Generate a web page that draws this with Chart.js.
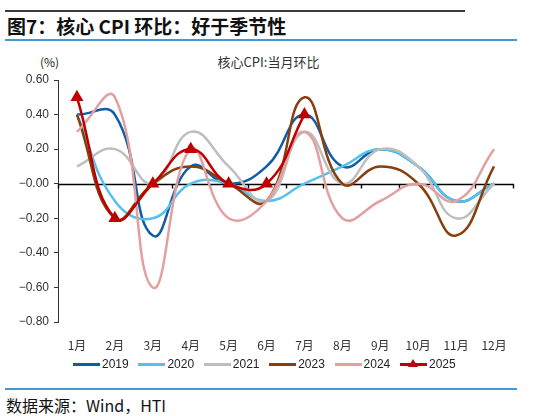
<!DOCTYPE html>
<html><head><meta charset="utf-8">
<script src="https://cdn.jsdelivr.net/npm/chart.js@4"></script>
<style>
html,body{margin:0;padding:0;background:#fff;}
#page{position:relative;width:537px;height:416px;overflow:hidden;font-family:"Liberation Sans","Noto Sans CJK SC",sans-serif;}
.rule{position:absolute;}
#title{position:absolute;left:7px;top:12px;font:bold 19px "Noto Sans CJK SC","Liberation Sans",sans-serif;color:#111;white-space:nowrap;}
#unit{position:absolute;left:40px;top:53px;font:12px "Noto Sans CJK SC",sans-serif;color:#222;}
#ctitle{position:absolute;left:0;width:537px;text-align:center;top:52px;font:13px "Noto Sans CJK SC",sans-serif;color:#333;}
#wrap{position:absolute;left:0;top:48px;width:537px;height:310px;}
#legend{position:absolute;top:356px;left:0;width:537px;height:16px;}
.li{position:absolute;top:0;height:16px;font:12px "Liberation Sans",sans-serif;color:#222;line-height:16px;}
.ls{position:absolute;left:0;top:7px;width:27px;height:2.5px;}
.lt{position:absolute;left:29px;top:0;}
.tri{position:absolute;left:8px;top:3px;width:0;height:0;border-left:5px solid transparent;border-right:5px solid transparent;border-bottom:8px solid #C00000;}
#src{position:absolute;left:6px;top:393px;font:16px "Noto Sans CJK SC","Liberation Sans",sans-serif;color:#111;white-space:nowrap;}
</style></head>
<body><div id="page">
<div class="rule" style="left:5px;top:10px;width:460px;height:2px;background:#3c3c3c;"></div>
<div id="title">图7：核心 CPI 环比：好于季节性</div>
<div class="rule" style="left:5px;top:39px;width:512px;height:2px;background:#3f9ad6;"></div>
<div id="unit">(%)</div>
<div id="ctitle">核心CPI:当月环比</div>
<div id="wrap"><canvas id="c"></canvas></div>
<div id="legend"></div>
<div class="rule" style="left:5px;top:388px;width:512px;height:2px;background:#3f9ad6;"></div>
<div id="src">数据来源：Wind，HTI</div>
</div>
<script>
const months = ["1月","2月","3月","4月","5月","6月","7月","8月","9月","10月","11月","12月"];
const seriesNames = ["2019","2020","2021","2023","2024","2025"];
const seriesColors = ["#0E5DA6","#55C1EF","#BEBEBE","#86400F","#E3A0A0","#C00000"];
const y2019 = [0.4, 0.4, -0.3, 0.1, 0.0, 0.1, 0.4, 0.1, 0.2, 0.1, -0.1, 0.0];
const y2020 = [0.4, -0.1, -0.2, 0.0, 0.0, -0.1, 0.0, 0.1, 0.2, 0.1, -0.1, 0.0];
const y2021 = [0.1, 0.2, 0.0, 0.3, 0.1, -0.1, 0.3, 0.0, 0.2, 0.1, -0.2, 0.0];
const y2023 = [0.4, -0.2, 0.0, 0.1, 0.0, -0.1, 0.5, 0.0, 0.1, 0.0, -0.3, 0.1];
const y2024 = [0.3, 0.5, -0.6, 0.2, -0.2, -0.1, 0.3, -0.2, -0.1, 0.0, -0.1, 0.2];
const y2025 = [0.5, -0.2, 0.0, 0.2, 0.0, 0.0, 0.4];
const yMin = -0.8, yMax = 0.6, yStep = 0.2;

const allSeries = [y2019, y2020, y2021, y2023, y2024, y2025];
const datasets = allSeries.map((d, i) => {
  const isLast = i === allSeries.length - 1;
  return {
    label: seriesNames[i],
    data: d,
    borderColor: seriesColors[i],
    backgroundColor: seriesColors[i],
    borderWidth: 2.5,
    tension: 0.45,
    fill: false,
    pointStyle: 'triangle',
    pointRadius: isLast ? 5 : 0,
    pointHoverRadius: 0,
    order: allSeries.length - i
  };
});

const zeroLine = {
  id: 'zeroLine',
  beforeDatasetsDraw(chart) {
    const {ctx, chartArea, scales} = chart;
    const y0 = Math.round(scales.y.getPixelForValue(0)) + 0.5;
    ctx.save();
    ctx.strokeStyle = '#000';
    ctx.lineWidth = 1.4;
    ctx.beginPath();
    ctx.moveTo(chartArea.left, y0);
    ctx.lineTo(chartArea.right + 1, y0);
    const p0 = scales.x.getPixelForValue(0), p1 = scales.x.getPixelForValue(1);
    const w = p1 - p0;
    for (let k = 0; k <= months.length; k++) {
      const x = Math.round(p0 - w / 2 + k * w) + 0.5;
      ctx.moveTo(x, y0);
      ctx.lineTo(x, y0 + 4);
    }
    ctx.stroke();
    ctx.restore();
  }
};

new Chart(document.getElementById('c'), {
  type: 'line',
  data: { labels: months, datasets },
  options: {
    responsive: true,
    maintainAspectRatio: false,
    animation: false,
    layout: { padding: { left: 0, top: 32, right: 24, bottom: 0 } },
    plugins: { legend: { display: false }, title: { display: false }, tooltip: { enabled: false } },
    scales: {
      x: {
        offset: true,
        grid: { display: false },
        border: { display: false },
        ticks: { padding: 8, color: '#333', font: { size: 12, family: '"Noto Sans CJK SC", sans-serif' }, maxRotation: 0, autoSkip: false },
        afterFit(s) { s.height = 36; }
      },
      y: {
        min: yMin, max: yMax,
        grid: { display: true, drawOnChartArea: false, drawTicks: true, tickLength: 4, color: '#333' },
        border: { display: true, color: '#333', width: 1 },
        ticks: { stepSize: yStep, padding: 5, color: '#333', font: { size: 12, family: '"Liberation Sans", sans-serif' },
          callback: v => (v < 0 ? '−' : '') + Math.abs(v).toFixed(2) },
        afterFit(s) { s.width = 58; }
      }
    }
  },
  plugins: [zeroLine]
});

// legend
const leg = document.getElementById('legend');
seriesNames.forEach((n, i) => {
  const it = document.createElement('div');
  it.className = 'li';
  it.style.left = (73 + i * 65.4) + 'px';
  it.innerHTML = '<div class="ls" style="background:' + seriesColors[i] + '"></div>' +
    (i === seriesNames.length - 1 ? '<div class="tri"></div>' : '') +
    '<div class="lt">' + n + '</div>';
  leg.appendChild(it);
});
</script>
</body></html>
